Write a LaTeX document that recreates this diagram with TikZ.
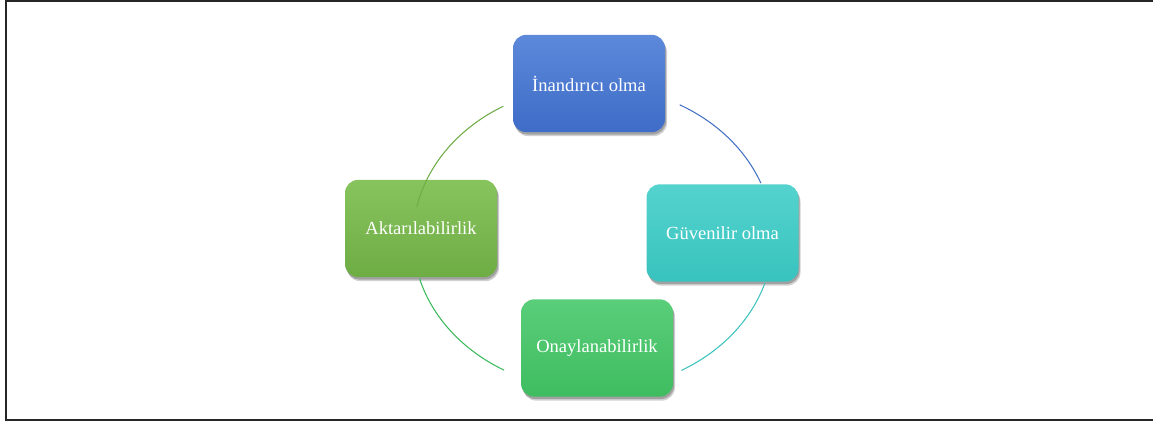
\documentclass[tikz,border=0pt]{standalone}
\usepackage{fontspec}
\setmainfont{Liberation Serif}
\usetikzlibrary{shadows}

\definecolor{blueTop}{HTML}{5C89DA}
\definecolor{blueBot}{HTML}{3E6CC7}
\definecolor{tealTop}{HTML}{55D3CE}
\definecolor{tealBot}{HTML}{38C3BE}
\definecolor{greenTop}{HTML}{5ACE7A}
\definecolor{greenBot}{HTML}{3FBC60}
\definecolor{oliveTop}{HTML}{88C45E}
\definecolor{oliveBot}{HTML}{6EAC44}
\definecolor{blueArc}{HTML}{4472C4}
\definecolor{tealArc}{HTML}{3EC3BE}
\definecolor{greenArc}{HTML}{3DBA5E}
\definecolor{oliveArc}{HTML}{70AD47}

\begin{document}
\begin{tikzpicture}[x=0.75pt,y=0.75pt]
      \tikzset { block/.style = { shape=rectangle,rounded corners=10pt,minimum width=114pt,minimum height=73pt,inner sep=0pt,text=white,font=\fontsize{13.9}{16}\selectfont,general shadow={shadow xshift=1.5pt,shadow yshift=-3pt,opacity=0.18,fill=black},drop shadow={shadow xshift=0.8pt,shadow yshift=-1.8pt,opacity=0.3,fill=black!80} } }
      \tikzset { ring/.style = { line width=0.8pt } }

      \useasboundingbox (0,0) rectangle (1153,423);
      \draw[line width=1.5pt,black!85] (1160,421.5) -- (5.5,421.5) -- (5.5,2.5) -- (1160,2.5);

      \coordinate (hub) at (593,185);

      \node[block,top color=blueTop,bottom color=blueBot] (inandirici) at (589,339.5) {İnandırıcı olma};
      \node[block,top color=tealTop,bottom color=tealBot] (guvenilir) at (722.5,190) {Güvenilir olma};
      \node[block,top color=greenTop,bottom color=greenBot] (onaylanabilir) at (597,75) {Onaylanabilirlik};
      \node[block,top color=oliveTop,bottom color=oliveBot] (aktarilabilir) at (421,194.5) {Aktarılabilirlik};

      \draw[ring,blueArc] (hub) ++(61.2:180 and 152) arc[start angle=61.2,end angle=21.2,x radius=180,y radius=152];
      \draw[ring,tealArc] (hub) ++(-17.1:180 and 152) arc[start angle=-17.1,end angle=-60.6,x radius=180,y radius=152];
      \draw[ring,greenArc] (hub) ++(240.4:180 and 152) arc[start angle=240.4,end angle=195.4,x radius=180,y radius=152];
      \draw[ring,oliveArc] (hub) ++(168.2:180 and 152) arc[start angle=168.2,end angle=119.9,x radius=180,y radius=152];

    \end{tikzpicture}
\end{document}
